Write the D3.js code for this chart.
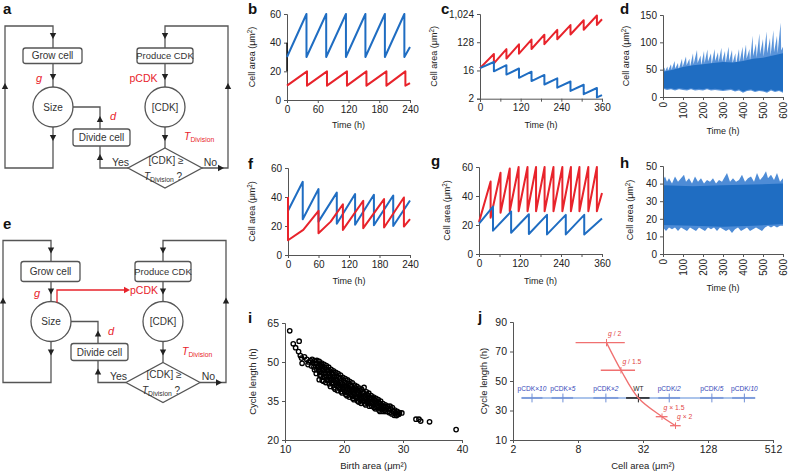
<!DOCTYPE html>
<html><head><meta charset="utf-8">
<script src="https://cdn.jsdelivr.net/npm/d3@7"></script>
<style>
body{margin:0;background:#fff;}
svg{display:block;font-family:"Liberation Sans",Arial,Helvetica,sans-serif;}
</style></head><body>
<svg id="c" width="788" height="474"></svg>
<script>
// ---------------- DATA ----------------
// b: time (h), cell area
const blueB = [[0,30],[38,60],[38,30],[76.5,60],[76.5,30],[115,60],[115,30],[153,60],[153,30],[191,60],[191,30],[229,60],[229,30],[240,37]];
const redB  = [[0,10],[39,20],[39,10],[78,20],[78,10],[117,20],[117,10],[155,20],[155,10],[194,20],[194,10],[231,20],[231,10],[240,11.8]];
const blackB = [[0,20],[0,40]];
const bXTicks = [0,60,120,180,240], bYTicks = [0,20,40,60];
// c (log2 axis)
const redC  = [[0,19],[41,54],[41,27],[78,77],[78,38.6],[115,110],[115,55],[152,156],[152,78],[190,223],[190,111],[228,317],[228,159],[267,452],[267,226],[306,644],[306,322],[345,917],[345,458],[360,695]];
const blueC = [[0,19],[41,29.9],[41,15],[78,23.6],[78,11.8],[115,18.5],[115,9.3],[152,14.6],[152,7.3],[190,11.5],[190,5.7],[228,9.0],[228,4.5],[267,7.1],[267,3.55],[306,5.6],[306,2.8],[345,4.4],[345,2.2],[360,2.6]];
const cXTicks = [0,60,120,180,240,300,360], cXLabels = [0,120,240,360], cYTicks = [2,16,128,1024];
// d: envelope of many stochastic traces
const dTop = [[0,48],[8,54],[10,47],[22,56],[25,48],[40,60],[43,50],[58,66],[61,52],[75,62],[78,50],[95,70],[98,55],[115,74],[118,58],[132,70],[135,55],[150,80],[153,60],[170,86],[173,62],[188,76],[191,58],[205,84],[208,62],[222,87],[225,65],[240,80],[243,60],[258,88],[261,66],[275,82],[278,64],[292,90],[295,65],[310,84],[313,62],[328,92],[331,66],[345,86],[348,62],[362,80],[365,60],[380,88],[383,64],[398,92],[401,66],[415,96],[418,70],[432,88],[435,66],[448,112],[451,75],[465,98],[468,72],[482,116],[485,78],[500,106],[503,74],[518,120],[521,80],[535,108],[538,76],[552,122],[555,82],[570,112],[573,80],[588,136],[591,85],[600,92]];
const dCore = [[0,46],[50,50],[100,55],[150,58],[200,60],[250,62],[300,64],[350,63],[400,66],[450,70],[500,72],[550,76],[600,80]];
const dBot = [[0,15],[20,13],[40,14],[60,12],[80,14],[100,13],[120,12],[140,14],[160,12],[180,13],[200,12],[220,14],[240,12],[260,13],[280,12],[300,11],[320,12],[340,13],[360,10],[380,12],[400,8],[420,11],[440,12],[460,9],[480,11],[500,10],[520,8],[540,12],[560,9],[580,11],[600,8]];
const dXTicks = [0,100,200,300,400,500,600], dYTicks = [0,50,100,150];
// f
const blueF = [[0,30.5],[29,50.5],[29,24.7],[60,45.5],[60,23],[96,43],[96,21.5],[132,42],[132,20.8],[169,41.5],[169,20.5],[207,41],[207,20],[240,37.6]];
const redF  = [[0,40],[0,10.2],[30,17.3],[60,30.5],[60,15],[84,23],[108,35],[108,17.3],[148,37.4],[148,18.5],[189,38.5],[189,19],[228,39.7],[228,19.6],[240,24.7]];
const fXTicks = [0,60,120,180,240], fYTicks = [0,20,40,60];
// g
const redG = [[0,22],[34,50],[34,25],[63,56],[63,28.5],[90,59],[90,29.5],[116,60],[116,29.5],[142,60],[142,29.5],[167,60],[167,29.5],[192,60],[192,29.5],[218,60],[218,29.5],[244,60],[244,29.5],[269,60],[269,29.5],[294,60],[294,29.5],[320,60],[320,29.5],[345,60],[345,29.5],[360,42]];
const blueG = [[0,21],[41,32.7],[41,16.1],[94,29.3],[94,14.7],[146,27.4],[146,13.8],[199,27],[199,13.5],[254,27],[254,13.5],[308,27],[308,13.5],[360,24.5]];
const gXTicks = [0,60,120,180,240,300,360], gXLabels = [0,120,240,360], gYTicks = [0,20,40,60];
// h
const hTop = [[0,42],[10,44],[20,41],[30,43],[45,40],[60,44],[75,41],[90,43],[105,45],[115,41],[130,43],[145,40],[160,44],[175,41],[190,43],[205,40],[220,42],[235,41],[250,43],[265,40],[280,42],[295,41],[310,44],[320,46],[335,41],[350,43],[365,41],[380,42],[395,45],[410,41],[425,43],[440,44],[455,41],[470,46],[485,42],[500,44],[515,47],[525,43],[540,45],[555,42],[570,46],[585,41],[600,43]];
const hBot = [[0,15],[15,13],[30,15],[45,14],[60,15],[75,13],[90,15],[105,14],[120,13],[135,15],[150,14],[165,13],[180,15],[195,14],[210,13],[225,15],[240,14],[255,15],[270,13],[285,15],[300,14],[315,13],[330,14],[345,12],[360,14],[375,15],[390,13],[405,14],[420,15],[435,13],[450,14],[465,15],[480,14],[495,13],[510,15],[525,16],[540,15],[555,16],[570,15],[585,16],[600,16]];
const hCore = [[0,39],[150,38.5],[300,39],[450,39.5],[600,40]];
const hCoreBot = [[0,16.5],[150,16],[300,15.5],[450,16],[600,17]];
const hXTicks = [0,100,200,300,400,500,600], hYTicks = [0,10,20,30,40,50];
// i: birth area vs cycle length
const iPts = [
[10.8,62],[11.4,57],[11.8,55.5],[12.4,58],[12.3,54],[12.6,52.5],[12.9,49.5],[12.8,51.5],[13.3,52],[13.7,51],[14.0,50],[14.3,50.5],[13.9,49],
[14.6,51],[14.7,49.8],[14.5,48.5],
[15.0,50.5],[15.1,49.4],[14.9,48.1],[15.0,47],
[15.4,50.6],[15.3,49.5],[15.5,48.4],[15.4,47.1],[15.3,45.6],
[15.8,50.2],[15.9,49],[15.7,47.9],[15.8,46.4],[15.9,45],[15.8,43.2],
[16.2,49.6],[16.1,48.4],[16.3,47.1],[16.2,45.9],[16.1,44.6],[16.3,43],
[16.6,49.1],[16.7,47.9],[16.5,46.6],[16.6,45.4],[16.7,44.1],[16.5,42.6],
[17,48.6],[17.1,47.1],[16.9,46],[17,44.6],[17.1,43.4],[16.9,42.1],
[17.4,48],[17.3,46.6],[17.5,45.4],[17.4,44.1],[17.3,42.9],[17.5,41.6],
[17.8,47.2],[17.9,46],[17.7,44.6],[17.8,43.4],[17.9,42.1],[17.7,40.6],
[18.2,46.6],[18.1,45.4],[18.3,44.1],[18.2,42.9],[18.1,41.6],[18.3,40.1],
[18.6,46],[18.7,44.6],[18.5,43.4],[18.6,42.1],[18.7,40.9],[18.5,39.5],
[19,45.5],[19.1,44.1],[18.9,42.9],[19,41.6],[19.1,40.4],[18.9,39],
[19.4,45],[19.3,43.6],[19.5,42.1],[19.4,41.1],[19.3,39.9],[19.5,38.6],
[19.8,44.1],[19.9,43],[19.7,41.6],[19.8,40.5],[19.9,39.4],[19.7,38.1],
[20.2,43.6],[20.1,42.1],[20.3,41],[20.2,39.9],[20.1,38.6],[20.3,37.5],
[20.6,43.1],[20.7,41.6],[20.5,40.5],[20.6,39.4],[20.7,38.1],[20.5,37],
[21,42.5],[21.1,41.1],[20.9,40],[21,38.9],[21.1,37.6],[20.9,36.5],
[21.4,42],[21.3,40.6],[21.5,39.5],[21.4,38.4],[21.3,37.1],[21.5,36],
[21.8,41.1],[21.9,40],[21.7,39],[21.8,37.9],[21.9,36.6],[21.7,35.5],
[22.2,40.6],[22.1,39.5],[22.3,38.5],[22.2,37.4],[22.1,36.1],[22.3,35],
[22.6,40],[22.7,39],[22.5,38],[22.6,36.9],[22.7,35.6],[22.5,34.6],
[23,39.5],[23.1,38.5],[22.9,37.5],[23,36.4],[23.1,35.1],[22.9,34.1],
[23.4,40.2],[23.3,38.1],[23.5,37],[23.4,36],[23.3,35],[23.5,33.9],
[23.8,38.5],[23.9,37.5],[23.7,36.5],[23.8,35.5],[23.9,34.5],[23.7,33.5],
[24.2,38],[24.1,37],[24.3,36],[24.2,35],[24.1,34],[24.3,33],
[24.6,37.1],[24.7,36],[24.5,35],[24.6,34],[24.7,33],
[25,36.5],[25.1,35.5],[24.9,34.5],[25,33.5],[25.1,32.5],
[25.4,36],[25.3,35],[25.5,34],[25.4,33],[25.3,32],
[25.8,35.5],[25.9,34.5],[25.7,33.5],[25.8,32.5],[25.9,31.5],
[26.2,35],[26.1,34],[26.3,33],[26.2,32],[26.1,31],
[26.6,34],[26.7,33],[26.5,32],[26.6,31],
[27,33.5],[27.1,32.5],[26.9,31.5],[27,31],
[27.4,33],[27.5,32],[27.3,31],
[27.8,33],[27.9,32],[27.7,30.5],
[28.2,32.5],[28.3,31],[28.1,30],
[28.6,31.5],[28.7,30.5],[28.5,29.5],
[29,31],[29.1,30],[28.9,29.4],
[29.4,30.5],[29.3,29.9],
[29.8,30.4],
[32.2,28],[32.7,28],[33.0,27.3],[34.5,27],[39.0,24]];
const iXTicks = [10,20,30,40], iYTicks = [20,35,50,65];
// j
const jBlueLabels = ["pCDK×10","pCDK×5","pCDK×2","WT","pCDK/2","pCDK/5","pCDK/10"];
const jBlueX  = [3.0, 5.8, 14.5, 29, 56, 139, 278];
const jBlueXlo = [2.4, 4.55, 11.1, 22.3, 44.3, 108, 214];
const jBlueXhi = [3.75, 7.2, 18.9, 36.8, 70.5, 178, 350];
const jBlueY = [38.5, 38.5, 38.5, 38.5, 38.5, 38.5, 38.5];
const jBlueYerr = [3, 3, 3, 3, 3, 3, 3];
const jRedLabels = ["2","1.5","1.5","2"];
const jRedOps = ["/","/","×","×"];
const jRedX = [14.7, 20, 48, 64];
const jRedY = [76, 57.3, 25.8, 19.7];
const jRedXlo = [7.6, 13, 42, 57];
const jRedXhi = [21.7, 27, 54, 71.5];
const jRedYerr = [2.5, 2.2, 2.2, 2.2];
const jXTicks = [2,8,32,128,512], jYTicks = [10,30,50,70,90];

// ---------------- DRAW ----------------
const svg = d3.select('#c');
const FONT = '"Liberation Sans",Arial,sans-serif';
const BLUE = '#1f6dc2', RED = '#e8232b', AX = '#555', TX = '#222';
const lg = (x,y)=>d3.line().x(d=>x(d[0])).y(d=>y(d[1]));

function axes(o){
  const xlab = o.xl ? (d=>o.xl.includes(d)?(o.xf?o.xf(d):d):'') : (o.xf||(d=>d));
  const gx = svg.append('g').attr('transform',`translate(0,${o.y.range()[0]})`)
    .call(d3.axisBottom(o.x).tickValues(o.xt).tickFormat(xlab).tickSizeOuter(0).tickSize(3).tickPadding(2.5));
  const gy = svg.append('g').attr('transform',`translate(${o.x.range()[0]},0)`)
    .call(d3.axisLeft(o.y).tickValues(o.yt).tickFormat(o.yf||(d=>d)).tickSizeOuter(0).tickSize(3).tickPadding(3));
  [gx,gy].forEach(g=>{
    g.selectAll('path,line').attr('stroke',AX).attr('stroke-width',1);
    g.selectAll('text').attr('fill',TX).attr('font-size',o.fs||10).attr('font-family',FONT);
  });
  if(o.rot) gx.selectAll('text').attr('transform','rotate(-90)').attr('x',-5).attr('y',0).attr('dy','0.35em').attr('text-anchor','end');
  svg.append('text').attr('x',(o.x.range()[0]+o.x.range()[1])/2).attr('y',o.xty)
    .attr('text-anchor','middle').attr('font-size',o.tfs||9).attr('fill',TX).text(o.xtitle);
  const yt = svg.append('text').attr('transform',`translate(${o.ytx},${(o.y.range()[0]+o.y.range()[1])/2}) rotate(-90)`)
    .attr('text-anchor','middle').attr('font-size',o.tfs||9).attr('fill',TX);
  if(o.ytitle==='area'){ yt.text('Cell area (μm'); yt.append('tspan').attr('font-size',(o.tfs||9)*0.7).attr('dy',-3).text('2'); yt.append('tspan').attr('dy',3).text(')'); }
  else yt.text(o.ytitle);
}
function letter(t,x,y){ svg.append('text').attr('x',x).attr('y',y).attr('font-size',15).attr('font-weight','bold').attr('fill','#111').text(t); }
function path(d,color,w){ svg.append('path').attr('d',d).attr('fill','none').attr('stroke',color).attr('stroke-width',w||2).attr('stroke-linejoin','round'); }

// ----- b -----
{
  const x=d3.scaleLinear().domain([0,240]).range([287,410]);
  const y=d3.scaleLinear().domain([0,60]).range([100,14]);
  axes({x,y,xt:bXTicks,yt:bYTicks,xty:128,ytx:255,xtitle:'Time (h)',ytitle:'area'});
  path(lg(x,y)(blackB),'#111',1.5);
  path(lg(x,y)(blueB),BLUE,2);
  path(lg(x,y)(redB),RED,2);
  letter('b',248,14);
}
// ----- c -----
{
  const x=d3.scaleLinear().domain([0,360]).range([480,602]);
  const y=d3.scaleLog().base(2).domain([2,1024]).range([98.7,14]);
  axes({x,y,xt:cXTicks,xl:cXLabels,yt:cYTicks,yf:d3.format(','),xty:128,ytx:437,xtitle:'Time (h)',ytitle:'area'});
  path(lg(x,y)(redC),RED,2);
  path(lg(x,y)(blueC),BLUE,2);
  letter('c',441,14);
}
// ----- d -----
{
  const x=d3.scaleLinear().domain([0,600]).range([663,783]);
  const y=d3.scaleLinear().domain([0,150]).range([97,15]);
  const l=lg(x,y);
  svg.append('path').attr('d',l(dTop.concat(dBot.slice().reverse()))+'Z').attr('fill','#2f78cf').attr('opacity',0.8);
  svg.append('path').attr('d',l(dCore.concat(dBot.map(d=>[d[0],d[1]+2]).reverse()))+'Z').attr('fill',BLUE);
  axes({x,y,xt:dXTicks,yt:dYTicks,rot:true,xty:134,ytx:629,xtitle:'Time (h)',ytitle:'area'});
  letter('d',620,14);
}
// ----- f -----
{
  const x=d3.scaleLinear().domain([0,240]).range([288,410]);
  const y=d3.scaleLinear().domain([0,60]).range([255,168]);
  axes({x,y,xt:fXTicks,yt:fYTicks,xty:284,ytx:255,xtitle:'Time (h)',ytitle:'area'});
  path(lg(x,y)(blueF),BLUE,2);
  path(lg(x,y)(redF),RED,2);
  letter('f',248,169);
}
// ----- g -----
{
  const x=d3.scaleLinear().domain([0,360]).range([479,602]);
  const y=d3.scaleLinear().domain([0,60]).range([254,167]);
  axes({x,y,xt:gXTicks,xl:gXLabels,yt:gYTicks,xty:284,ytx:450,xtitle:'Time (h)',ytitle:'area'});
  path(lg(x,y)(redG),RED,2);
  path(lg(x,y)(blueG),BLUE,2);
  letter('g',431,166);
}
// ----- h -----
{
  const x=d3.scaleLinear().domain([0,600]).range([663,783]);
  const y=d3.scaleLinear().domain([0,50]).range([254,166]);
  const l=lg(x,y);
  svg.append('path').attr('d',l(hTop.concat(hBot.slice().reverse()))+'Z').attr('fill','#2f78cf').attr('opacity',0.85);
  svg.append('path').attr('d',l(hCore.concat(hCoreBot.slice().reverse()))+'Z').attr('fill',BLUE);
  axes({x,y,xt:hXTicks,yt:hYTicks,rot:true,xty:291,ytx:633,xtitle:'Time (h)',ytitle:'area'});
  letter('h',620,168);
}
// ----- i -----
{
  const x=d3.scaleLinear().domain([10,40]).range([285,462]);
  const y=d3.scaleLinear().domain([20,65]).range([440,323]);
  svg.append('g').selectAll('circle').data(iPts).join('circle')
    .attr('cx',d=>x(d[0])).attr('cy',d=>y(d[1])).attr('r',2.2)
    .attr('fill','none').attr('stroke','#000').attr('stroke-width',1.35);
  axes({x,y,xt:iXTicks,yt:iYTicks,fs:10.5,tfs:9.5,xty:469,ytx:256,xtitle:'Birth area (μm²)',ytitle:'Cycle length (h)'});
  letter('i',248,323);
}
// ----- j -----
{
  const x=d3.scaleLog().base(2).domain([2,512]).range([513,773]);
  const y=d3.scaleLinear().domain([10,90]).range([440,322]);
  const g=svg.append('g');
  const LB='#8fb0e4', DB='#6f8fd6', TB='#3346b8', LR='#f07070';
  g.append('line').attr('x1',x(jBlueXlo[0])).attr('x2',x(jBlueXhi[6])).attr('y1',y(jBlueY[0])).attr('y2',y(jBlueY[0])).attr('stroke',LB).attr('stroke-width',1.6);
  jBlueX.forEach((v,i)=>{
    const wt = jBlueLabels[i]==='WT';
    const col = wt?'#222':DB;
    g.append('line').attr('x1',x(jBlueXlo[i])).attr('x2',x(jBlueXhi[i])).attr('y1',y(jBlueY[i])).attr('y2',y(jBlueY[i])).attr('stroke',col).attr('stroke-width',wt?1.6:2).attr('opacity',wt?1:0.7);
    g.append('line').attr('x1',x(v)).attr('x2',x(v)).attr('y1',y(jBlueY[i]-jBlueYerr[i])).attr('y2',y(jBlueY[i]+jBlueYerr[i])).attr('stroke',col).attr('stroke-width',1);
    const t=g.append('text').attr('x',x(v)).attr('y',y(jBlueY[i])-7).attr('text-anchor','middle').attr('font-size',6.6).attr('fill',wt?'#222':TB);
    const m = jBlueLabels[i].match(/^(pCDK[×\/])(\d+)$/);
    if(m){ t.text(m[1]); t.append('tspan').attr('font-style','italic').text(m[2]); } else t.text(jBlueLabels[i]);
  });
  const wtI = jBlueLabels.indexOf('WT');
  const curvePts = [[jRedX[0],jRedY[0]],[jRedX[1],jRedY[1]],[jBlueX[wtI],jBlueY[wtI]],[jRedX[2],jRedY[2]],[jRedX[3],jRedY[3]]];
  g.append('path').attr('d',d3.line().x(d=>x(d[0])).y(d=>y(d[1])).curve(d3.curveCatmullRom)(curvePts)).attr('fill','none').attr('stroke',LR).attr('stroke-width',1.3);
  jRedX.forEach((v,i)=>{
    g.append('line').attr('x1',x(jRedXlo[i])).attr('x2',x(jRedXhi[i])).attr('y1',y(jRedY[i])).attr('y2',y(jRedY[i])).attr('stroke',LR).attr('stroke-width',1.3);
    g.append('line').attr('x1',x(v)).attr('x2',x(v)).attr('y1',y(jRedY[i]-jRedYerr[i])).attr('y2',y(jRedY[i]+jRedYerr[i])).attr('stroke',LR).attr('stroke-width',1);
    const t=g.append('text').attr('x',x(v)+1.5).attr('y',y(jRedY[i])-6.5).attr('font-size',6.8).attr('fill','#e24848');
    t.append('tspan').attr('font-style','italic').text('g');
    t.append('tspan').text(' '+jRedOps[i]+' '+jRedLabels[i]);
  });
  axes({x,y,xt:jXTicks,yt:jYTicks,xf:d3.format('d'),fs:10.5,tfs:9.5,xty:469,ytx:487,xtitle:'Cell area (μm²)',ytitle:'Cycle length (h)'});
  letter('j',478,322);
}

// ----- flowcharts a / e -----
function flow(dx,dy,isE){
  const g=svg.append('g').attr('transform',`translate(${dx},${dy})`).attr('font-family',FONT);
  const L='#555', W=1.3;
  const line=(pts,c)=>g.append('polyline').attr('points',pts.map(p=>p.join(',')).join(' ')).attr('fill','none').attr('stroke',c||L).attr('stroke-width',W);
  const arrow=(x,y,dir,c)=>{const s=3.2,l=6;let p;
    if(dir==='d')p=[[x-s,y-l/2],[x+s,y-l/2],[x,y+l/2]];
    if(dir==='u')p=[[x-s,y+l/2],[x+s,y+l/2],[x,y-l/2]];
    if(dir==='r')p=[[x-l/2,y-s],[x-l/2,y+s],[x+l/2,y]];
    g.append('polygon').attr('points',p.map(q=>q.join(',')).join(' ')).attr('fill',c||'#222');};
  const txt=(s,x,y,opt={})=>g.append('text').attr('x',x).attr('y',y).attr('text-anchor',opt.a||'middle').attr('font-size',opt.fs||10).attr('fill',opt.c||'#333').attr('font-style',opt.i?'italic':null).text(s);
  const bt = isE?47:48, bh = isE?20:15.5;
  line([[53,127],[53,168],[5,168],[5,26],[53,26],[53,bt]]);
  arrow(53,36,'d'); arrow(5,86,'u'); arrow(53,138,'d');
  line([[53,bt+bh],[53,87]]); arrow(53,77,'d');
  g.append('rect').attr('x',23).attr('y',bt).attr('width',59).attr('height',bh).attr('rx',2.5).attr('fill','#fff').attr('stroke',L).attr('stroke-width',W);
  txt('Grow cell',52.5,bt+bh/2+3.6);
  g.append('circle').attr('cx',53).attr('cy',107).attr('r',20).attr('fill','#fff').attr('stroke',L).attr('stroke-width',W);
  txt('Size',53,110.5);
  line([[73,107],[100,107],[100,129]]); arrow(100,119,'u');
  g.append('rect').attr('x',73).attr('y',129).attr('width',57).attr('height',17).attr('rx',2.5).attr('fill','#fff').attr('stroke',L).attr('stroke-width',W);
  txt('Divide cell',101.5,141.2);
  line([[128,168],[100,168],[100,146]]); arrow(100,157,'u');
  txt('Yes',120.5,165.5,{fs:10.5});
  line([[202,168],[228,168],[228,26],[165,26],[165,bt]]);
  arrow(165,36,'d'); arrow(228,86,'u'); arrow(221,168,'r');
  g.append('rect').attr('x',137).attr('y',bt).attr('width',56).attr('height',bh).attr('rx',2.5).attr('fill','#fff').attr('stroke',L).attr('stroke-width',W);
  txt('Produce CDK',165,bt+bh/2+3.4,{fs:9.4});
  line([[165,bt+bh],[165,87]]); arrow(165,77,'d');
  g.append('circle').attr('cx',165).attr('cy',107).attr('r',20).attr('fill','#fff').attr('stroke',L).attr('stroke-width',W);
  txt('[CDK]',165,110.5);
  line([[165,127],[165,148]]); arrow(165,138,'d');
  g.append('polygon').attr('points','165,148 202,168 165,188 128,168').attr('fill','#fff').attr('stroke',L).attr('stroke-width',W);
  txt('[CDK] ≥',166,163.5,{fs:10});
  const t2=txt('',163,179.5,{fs:10});
  t2.append('tspan').attr('font-style','italic').text('T');
  t2.append('tspan').attr('font-size',6.8).attr('dy',2).text('Division');
  t2.append('tspan').attr('dy',-2).text(' ?');
  txt('No',210.5,165.5,{fs:10.5});
  txt('g',39,82,{c:RED,i:true,fs:11});
  txt('d',113,120,{c:RED,i:true,fs:11});
  const td=txt('',184,140,{c:RED,a:'start',fs:10.5});
  td.append('tspan').attr('font-style','italic').text('T');
  td.append('tspan').attr('font-size',6.8).attr('dy',2).text('Division');
  if(isE){
    line([[59,88],[59,75.5],[128,75.5]],RED); arrow(129,75.5,'r',RED);
    txt('pCDK',146,79.5,{c:RED,fs:10.5});
  } else {
    txt('pCDK',143.5,82,{c:RED,fs:10.5});
  }
}
flow(0,0,false);
flow(-2,214.5,true);
letter('a',3,14);
letter('e',3,229);
</script>
</body></html>
